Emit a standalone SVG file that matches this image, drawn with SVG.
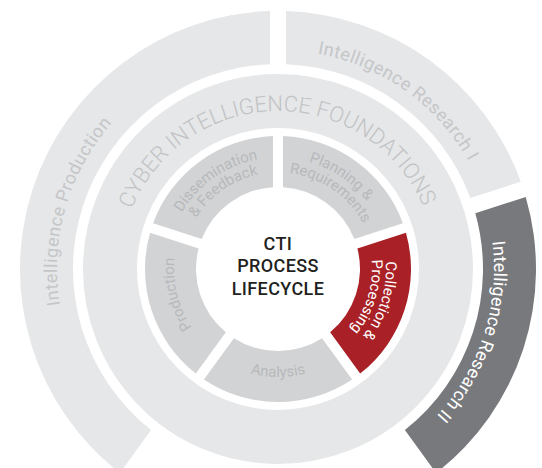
<svg xmlns="http://www.w3.org/2000/svg" width="542" height="468" viewBox="0 0 542 468">
  <style>
    .outer { fill: #e6e7e8; }
    .dark { fill: #78797c; }
    .seg { fill: #d2d3d5; }
    .red { fill: #a92126; }
    .otxt { font-family: Roboto, "Liberation Sans", sans-serif; font-size: 18px; fill: #c5c6c8; letter-spacing: 0.5px; }
    .wtxt { font-family: Roboto, "Liberation Sans", sans-serif; font-size: 18px; fill: #ffffff; letter-spacing: 0.15px; }
    .ftxt { font-family: Roboto, "Liberation Sans", sans-serif; font-size: 22px; font-weight: 300; fill: #c2c3c5; }
    .itxt { font-family: Roboto, "Liberation Sans", sans-serif; font-size: 15px; fill: #b7b9bb; }
    .rtxt { font-family: Roboto, "Liberation Sans", sans-serif; font-size: 15px; fill: #ffffff; }
    .ctxt { font-family: Roboto, "Liberation Sans", sans-serif; font-size: 18px; font-weight: 500; fill: #231f20; letter-spacing: 0.4px; text-anchor: middle; }
  </style>
  <defs>
    <path id="p-prod" d="M 94.78 392.58 A 221 221 0 0 1 188.11 67.11"/>
    <path id="p-res1" d="M 223.17 56.98 A 219 219 0 0 1 496.33 251.82"/>
    <path id="p-res2" d="M 460.78 153.90 A 216 216 0 0 1 359.61 468.99"/>
    <path id="p-found" d="M 120.49 256.60 A 158 158 0 0 1 435.27 253.86"/>
    <path id="p-plan1" d="M 229.65 168.53 A 111.5 111.5 0 0 1 389.19 277.36"/>
    <path id="p-plan2" d="M 236.15 182.05 A 96.5 96.5 0 0 1 374.23 276.24"/>
    <path id="p-diss1" d="M 166.92 278.72 A 111.5 111.5 0 0 1 325.12 167.95"/>
    <path id="p-diss2" d="M 181.87 277.41 A 96.5 96.5 0 0 1 318.78 181.54"/>
    <path id="p-coll1" d="M 357.24 195.62 A 108 108 0 0 1 301.93 374.32"/>
    <path id="p-coll2" d="M 346.97 205.13 A 94 94 0 0 1 298.83 360.66"/>
    <path id="p-prodseg" d="M 249.33 368.97 A 104 104 0 0 1 205.76 194.19"/>
    <path id="p-anal" d="M 184.47 323 A 108 108 0 0 0 371.53 323"/>
  </defs>

  <g id="connectors"></g>

  <g id="intelligence-production">
    <path class="outer" d="M 119.96 472.93 A 258 258 0 0 1 270 11.12 L 270 64.16 A 205 205 0 0 0 151.11 430.01 Z"/>
    <text class="otxt"><textPath href="#p-prod" startOffset="50%" text-anchor="middle">Intelligence Production</textPath></text>
  </g>

  <g id="intelligence-research-1">
    <path class="outer" d="M 286 11.12 A 258 258 0 0 1 520.78 181.70 L 470.35 198.09 A 205 205 0 0 0 286 64.16 Z"/>
    <text class="otxt"><textPath href="#p-res1" startOffset="50%" text-anchor="middle">Intelligence Research I</textPath></text>
  </g>

  <g id="intelligence-research-2">
    <path class="dark" d="M 525.73 196.92 A 258 258 0 0 1 436.04 472.93 L 404.89 430.01 A 205 205 0 0 0 475.29 213.31 Z"/>
    <text class="wtxt"><textPath href="#p-res2" startOffset="50%" text-anchor="middle">Intelligence Research II</textPath></text>
  </g>

  <g id="cyber-intelligence-foundations">
    <circle cx="278" cy="269" r="168" fill="none" stroke="#e6e7e8" stroke-width="54"/>
    <text class="ftxt"><textPath href="#p-found" startOffset="50%" text-anchor="middle">CYBER INTELLIGENCE FOUNDATIONS</textPath></text>
  </g>

  <g id="planning-requirements">
    <path class="seg" d="M 283 136.09 A 133 133 0 0 1 402.86 223.17 L 354.30 238.95 A 82 82 0 0 0 283 187.15 Z"/>
    <text class="itxt"><textPath href="#p-plan1" startOffset="50%" text-anchor="middle">Planning &amp;</textPath></text>
    <text class="itxt"><textPath href="#p-plan2" startOffset="50%" text-anchor="middle">Requirements</textPath></text>
  </g>

  <g id="collection-processing">
    <path class="red" d="M 405.95 232.69 A 133 133 0 0 1 360.17 373.58 L 330.16 332.27 A 82 82 0 0 0 357.39 248.46 Z"/>
    <text class="rtxt"><textPath href="#p-coll1" startOffset="50%" text-anchor="middle">Collection &amp;</textPath></text>
    <text class="rtxt"><textPath href="#p-coll2" startOffset="50%" text-anchor="middle">Processing</textPath></text>
  </g>

  <g id="analysis">
    <path class="seg" d="M 352.10 379.45 A 133 133 0 0 1 203.90 379.45 L 233.93 338.15 A 82 82 0 0 0 322.07 338.15 Z"/>
    <text class="itxt"><textPath href="#p-anal" startOffset="50%" text-anchor="middle">Analysis</textPath></text>
  </g>

  <g id="production">
    <path class="seg" d="M 195.83 373.58 A 133 133 0 0 1 150.05 232.69 L 198.61 248.46 A 82 82 0 0 0 225.84 332.27 Z"/>
    <text class="itxt"><textPath href="#p-prodseg" startOffset="50%" text-anchor="middle">Production</textPath></text>
  </g>

  <g id="dissemination-feedback">
    <path class="seg" d="M 153.14 223.17 A 133 133 0 0 1 273 136.09 L 273 187.15 A 82 82 0 0 0 201.70 238.95 Z"/>
    <text class="itxt"><textPath href="#p-diss1" startOffset="50%" text-anchor="middle">Dissemination</textPath></text>
    <text class="itxt"><textPath href="#p-diss2" startOffset="50%" text-anchor="middle">&amp; Feedback</textPath></text>
  </g>

  <g id="cti-process-lifecycle">
    <text class="ctxt" x="278" y="249.5">CTI</text>
    <text class="ctxt" x="278" y="272">PROCESS</text>
    <text class="ctxt" x="278" y="294.5">LIFECYCLE</text>
  </g>
</svg>
